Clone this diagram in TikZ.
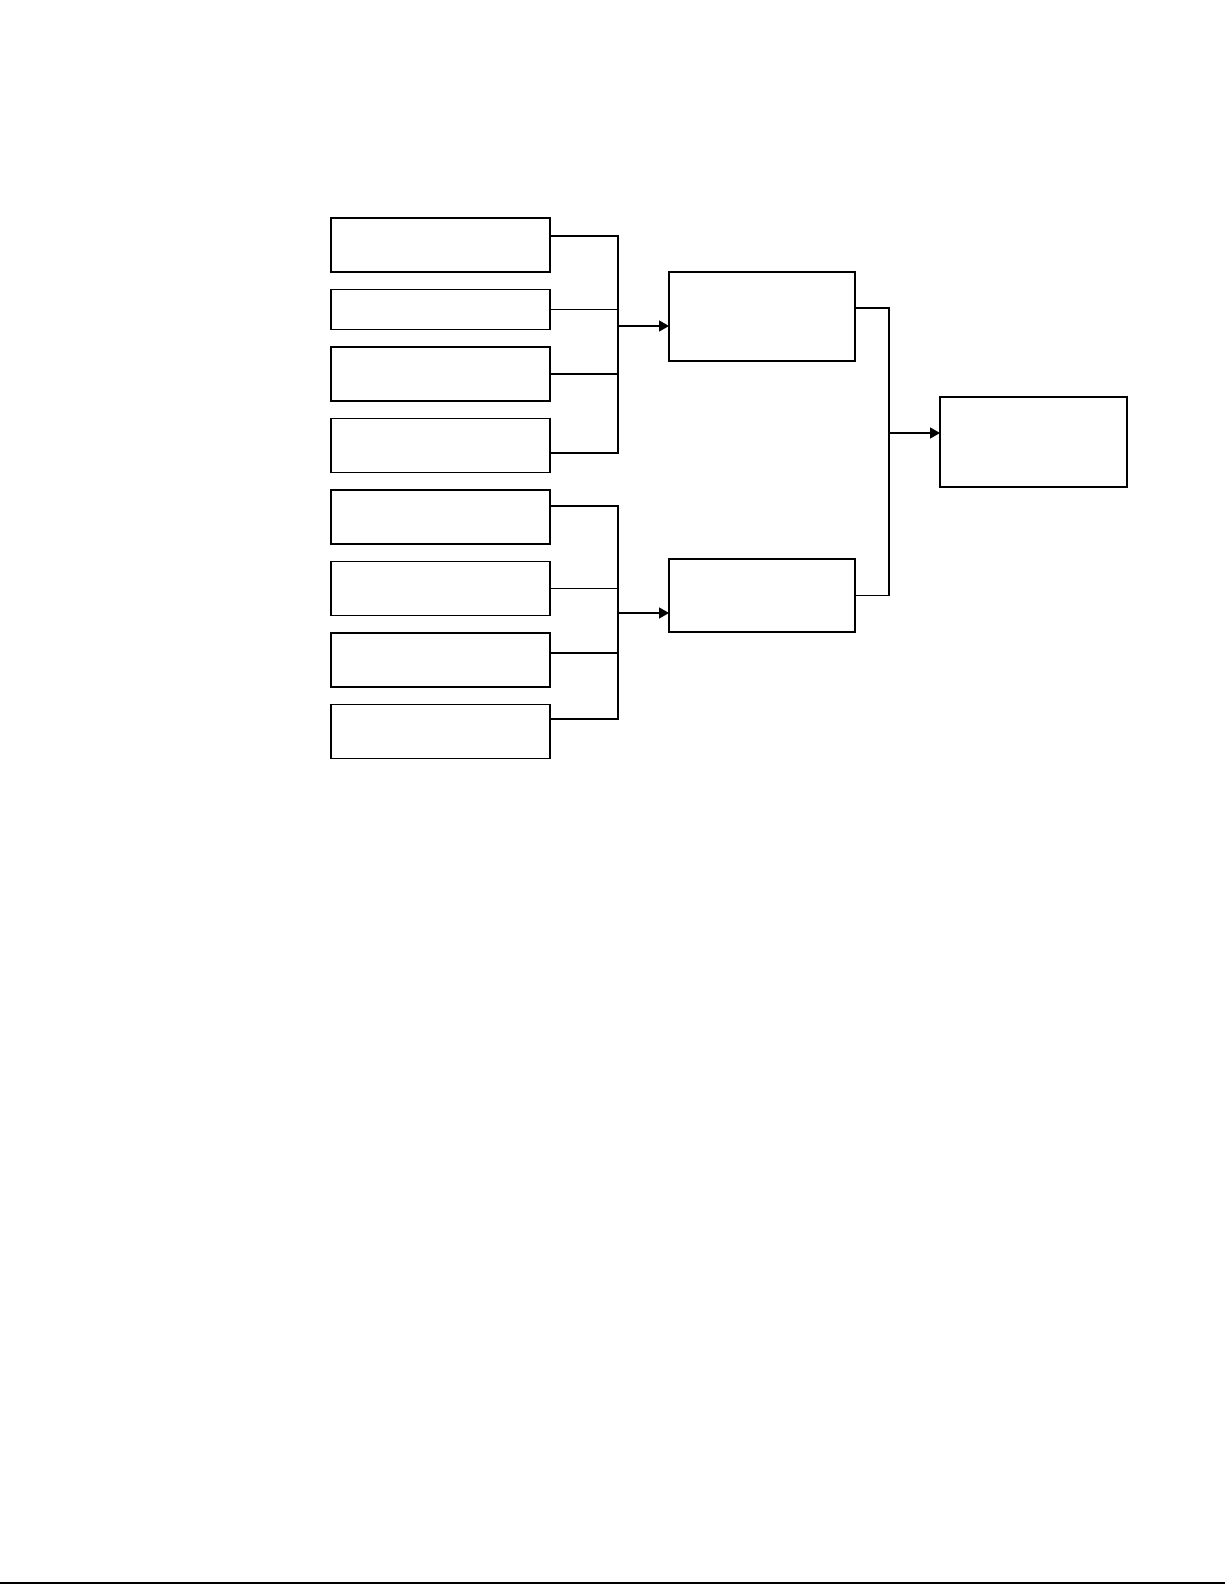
\documentclass[tikz,border=0pt]{standalone}
\usetikzlibrary{arrows.meta,chains,positioning}

\begin{document}
\begin{tikzpicture}[
			x = 0.02cm, y = -0.02cm,
			start chain = going below,
			node distance = 0.35cm,
			InBox/.style={draw, line width=0.8pt, minimum width=4.38cm, minimum height=1.08cm,
				outer sep=0pt, on chain},
			SumBox/.style={draw, line width=0.8pt, minimum width=3.72cm, outer sep=0pt,
				anchor=north west},
			Wire/.style={line width=0.8pt},
			Feed/.style={line width=0.8pt, -{Triangle[length=0.2cm, width=0.22cm]}},
			]
			\useasboundingbox (0,0) rectangle (1225,1585);
			% input boxes
			\node [InBox, anchor=north west] (1) at (331,218) {};
			\node [InBox, minimum height=0.8cm] (2) {};
			\node [InBox] (3) {};
			\node [InBox] (4) {};
			\node [InBox] (5) {};
			\node [InBox] (6) {};
			\node [InBox] (7) {};
			\node [InBox] (8) {};
			% middle and final boxes
			\node [SumBox, minimum height=1.78cm] (m1) at (669,272) {};
			\node [SumBox, minimum height=1.46cm] (m2) at (669,559) {};
			\node [SumBox, minimum width=3.74cm, minimum height=1.8cm] (out) at (940,397) {};
			% bus lines
			\coordinate (b1) at (618,0);
			\coordinate (b2) at (889,0);
			\coordinate (c4) at ([yshift=-0.15cm]4.east);
			\coordinate (c8) at ([yshift=0.25cm]8.east);
			\draw [Wire] ([yshift=0.18cm]1.east) -| (b1 |- c4) -- (c4);
			\draw [Wire] (2.east) -- (2.east -| b1);
			\draw [Wire] (3.east) -- (3.east -| b1);
			\draw [Wire] ([yshift=0.22cm]5.east) -| (b1 |- c8) -- (c8);
			\draw [Wire] (6.east) -- (6.east -| b1);
			\draw [Wire] ([yshift=0.14cm]7.east) -- ([yshift=0.14cm]7.east -| b1);
			\draw [Wire] ([yshift=0.17cm]m1.east) -| (b2 |- m2.east) -- (m2.east);
			% arrows
			\coordinate (a1) at ([yshift=-0.19cm]m1.west);
			\coordinate (a2) at ([yshift=-0.35cm]m2.west);
			\coordinate (a3) at ([yshift=0.18cm]out.west);
			\draw [Feed] (b1 |- a1) -- (a1);
			\draw [Feed] (b1 |- a2) -- (a2);
			\draw [Feed] (b2 |- a3) -- (a3);
			% page rule
			\draw [line width=1.2pt] (0,1583) -- (1225,1583);
		\end{tikzpicture}
\end{document}
